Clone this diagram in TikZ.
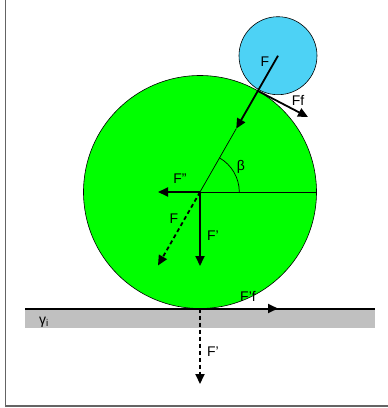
\documentclass[tikz,border=0pt]{standalone}
\usepackage{fontspec}
\setmainfont{Liberation Sans}
\usetikzlibrary{arrows.meta,calc}
\definecolor{ballgreen}{RGB}{0,255,0}
\definecolor{ballblue}{RGB}{77,210,245}
\definecolor{bandgray}{RGB}{192,192,192}
\definecolor{framegray}{RGB}{100,100,100}
\tikzset{
  force/.style={line width=1.8pt,-{Triangle[length=10pt,width=9pt]}},
  dforce/.style={force,dash pattern=on 4pt off 3pt},
  thinline/.style={line width=0.7pt},
  lab/.style={font=\fontsize{14}{16}\selectfont,inner sep=0pt},
}
\begin{document}
\begin{tikzpicture}[x=1pt,y=-1pt]
\useasboundingbox (0,0) rectangle (388,408);
% frame
\draw[framegray,line width=1.6pt] (5.5,0) -- (5.5,406) -- (388,406);
% ground band
\fill[bandgray] (25,308) rectangle (375,328);
% circles
\node[circle,draw=black,line width=0.6pt,fill=ballgreen,minimum size=233pt,inner sep=0pt] (G) at (200,192) {};
\node[circle,draw=black,line width=0.6pt,fill=ballblue,minimum size=78pt,inner sep=0pt] (B) at (278,55.7) {};
\draw[black,line width=2pt] (25,308.5) coordinate (bandL) -- (375,308.5) coordinate (bandR);
% geometry
\coordinate (C) at (200,192);
\coordinate (contact) at ($(C)!116.5pt!(B.center)$);
\coordinate (Ftip) at ($(C)!73pt!(B.center)$);
\coordinate (Rend) at (316.5,192);
\coordinate (Ground) at (200,308.5);
\draw[thinline] (C) -- (Ftip);
\draw[thinline] (C) -- (Rend);
\draw[thinline] (239.3,192) arc[start angle=0,end angle=60.3,radius=39.3pt];
% forces
\draw[force] (B.center) -- (Ftip);
\draw[force] (contact) -- (308,117) coordinate (Fftip);
\draw[force] (C) -- (158,192) coordinate (Fpp);
\draw[force] (C) -- (200,266) coordinate (Fp);
\draw[dforce] (C) -- (158,265.5) coordinate (Fd);
\draw[force] (Ground) -- (278,308.5) coordinate (Fpf);
\draw[dforce] (Ground) -- (200,384) coordinate (Fpd);
% labels
\node[lab] (lF) at (265,62) {F};
\node[lab] (lFf) at (298,100) {Ff};
\node[lab] (lFpp) at (180,179) {F''};
\node[lab] (lFd) at (174,219) {F};
\node[lab] (lFp) at (213,236) {F'};
\node[lab] (lbeta) at (241,167) {β};
\node[lab] (lFpf) at (248,296) {F'f};
\node[lab] (lgamma) at (44,322) {γ\textsubscript{i}};
\node[lab] (lFpd) at (213,352) {F'};
\end{tikzpicture}
\end{document}
